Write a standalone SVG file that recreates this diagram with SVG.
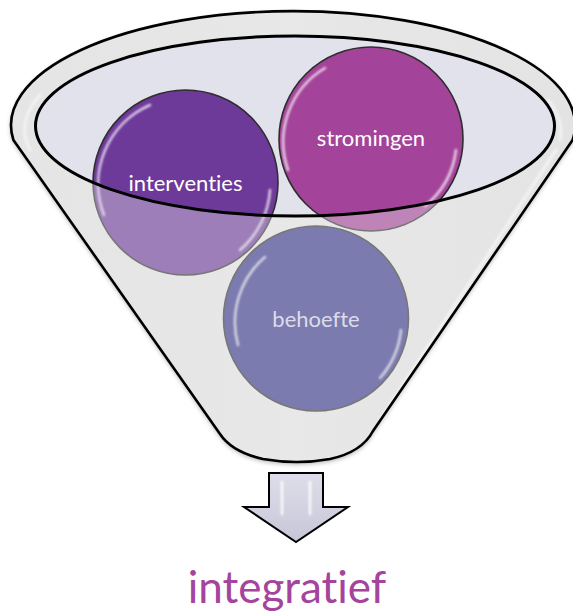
<svg xmlns="http://www.w3.org/2000/svg" width="573" height="613" viewBox="0 0 573 613">
  <defs>
    <style>
      .lbl { font-family: Lato, "Open Sans", "Liberation Sans", sans-serif; text-anchor: middle; font-variant-ligatures: none; font-feature-settings: "liga" 0, "dlig" 0; }
      .ring { stroke: #2e2e2e; stroke-width: 1.6; }
      .gloss { fill: none; stroke: #ffffff; stroke-linecap: round; filter: url(#soft); }
      .outline { fill: none; stroke: #000; stroke-linejoin: round; }
    </style>
    <filter id="soft" x="-20%" y="-20%" width="140%" height="140%">
      <feGaussianBlur stdDeviation="1.2"/>
    </filter>
    <filter id="shadow" x="-20%" y="-20%" width="140%" height="140%">
      <feGaussianBlur in="SourceAlpha" stdDeviation="2.5"/>
      <feOffset dx="0" dy="2"/>
      <feComponentTransfer><feFuncA type="linear" slope="0.35"/></feComponentTransfer>
      <feMerge><feMergeNode/><feMergeNode in="SourceGraphic"/></feMerge>
    </filter>
    <linearGradient id="funnelFill" x1="0" y1="0" x2="1" y2="0">
      <stop offset="0" stop-color="#e4e4e4"/>
      <stop offset="0.5" stop-color="#e9e9e9"/>
      <stop offset="1" stop-color="#e2e2e2"/>
    </linearGradient>
    <linearGradient id="arrowFill" x1="0" y1="0" x2="0" y2="1">
      <stop offset="0" stop-color="#dedeea"/>
      <stop offset="1" stop-color="#c6c6d8"/>
    </linearGradient>
  </defs>

  <!-- funnel body -->
  <g id="funnel">
    <path d="M 13.4,140 A 282,114 0 1 1 572.6,140 L 373,431 Q 362,452 330,459 Q 297,465 263,459 Q 232,452 220,434 Z" fill="url(#funnelFill)" filter="url(#shadow)"/>
    <ellipse cx="295" cy="126" rx="259.5" ry="90" fill="#e2e2ec"/>
    <!-- rim highlights -->
    <path d="M 30,150 A 268,104 0 0 1 40,95" class="gloss" stroke-width="3" opacity="0.8"/>
    <path d="M 556,150 L 380,420" class="gloss" stroke-width="3" opacity="0.9"/>
    <path d="M 548,100 A 268,104 0 0 1 560,140" class="gloss" stroke-width="3" opacity="0.8"/>
  </g>

  <!-- circles -->
  <g id="node-interventies">
    <circle cx="185.5" cy="182.5" r="92.5" fill="#6e3a9a" class="ring"/>
    <path d="M 104,215 A 86,86 0 0 1 150,105" class="gloss" stroke-width="2.5" opacity="0.75"/>
    <path d="M 270,190 A 86,86 0 0 1 240,250" class="gloss" stroke-width="2.5" opacity="0.75"/>
    <text x="185.5" y="191" class="lbl" font-size="22" fill="#ffffff">interventies</text>
  </g>

  <g id="node-stromingen">
    <circle cx="371" cy="139" r="92" fill="#a4439a" class="ring"/>
    <path d="M 288,170 A 86,86 0 0 1 325,68" class="gloss" stroke-width="2.5" opacity="0.75"/>
    <path d="M 456,150 A 86,86 0 0 1 425,206" class="gloss" stroke-width="2.5" opacity="0.75"/>
    <text x="371" y="146" class="lbl" font-size="22" fill="#ffffff">stromingen</text>
  </g>

  <g id="node-behoefte">
    <circle cx="316" cy="318.5" r="92.5" fill="#34348a" class="ring"/>
    <path d="M 238,345 A 86,86 0 0 1 265,257" class="gloss" stroke-width="2.5" opacity="0.75"/>
    <path d="M 401,330 A 86,86 0 0 1 380,378" class="gloss" stroke-width="2.5" opacity="0.75"/>
    <text x="316" y="327" class="lbl" font-size="22" fill="#d6d6ea">behoefte</text>
  </g>

  <!-- translucent front of funnel (outside the opening) -->
  <path d="M 13.4,140 A 282,114 0 1 1 572.6,140 L 373,431 Q 362,452 330,459 Q 297,465 263,459 Q 232,452 220,434 Z M 35.5,126 A 259.5,90 0 1 0 554.5,126 A 259.5,90 0 1 0 35.5,126 Z" fill="#e6e6e6" fill-opacity="0.4" fill-rule="evenodd"/>

  <!-- outlines -->
  <g id="connectors">
    <path d="M 13.4,140 A 282,114 0 1 1 572.6,140 L 373,431 Q 362,452 330,459 Q 297,465 263,459 Q 232,452 220,434 Z" class="outline" stroke-width="2.6"/>
    <ellipse cx="295" cy="126" rx="259.5" ry="90" class="outline" stroke-width="3"/>
    <g id="arrow">
      <path d="M 269,473 L 323,473 L 323,507 L 348,507 L 296,542 L 244,507 L 269,507 Z" fill="url(#arrowFill)" stroke="#000" stroke-width="2" stroke-linejoin="miter"/>
      <path d="M 282,482 L 282,514 M 310,482 L 310,514" class="gloss" stroke-width="2.5" opacity="0.9"/>
    </g>
  </g>

  <text id="title" x="287" y="603" class="lbl" font-size="44" fill="#a4449c">integratief</text>
</svg>
